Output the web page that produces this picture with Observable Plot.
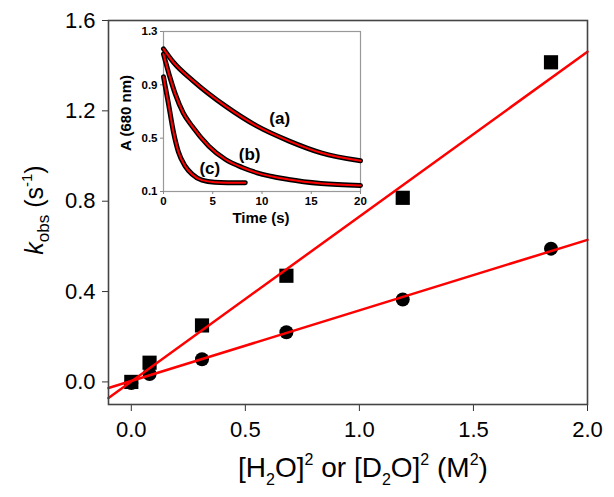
<!DOCTYPE html>
<html><head><meta charset="utf-8">
<script src="https://cdn.jsdelivr.net/npm/d3@7"></script>
<script src="https://cdn.jsdelivr.net/npm/@observablehq/plot@0.6"></script>
<style>
body{margin:0;background:#fff;}
#wrap{position:relative;width:614px;height:497px;background:#fff;}
#wrap svg{position:absolute;left:0;top:0;}
</style></head><body><div id="wrap"></div>
<script>
// Main plot data: [H2O]^2 or [D2O]^2 (M^2) vs k_obs (s^-1)
const waterSq = [0, 0.08, 0.31, 0.68, 1.19, 1.84];
const kobsH2O = [0.0, 0.085, 0.25, 0.47, 0.815, 1.415];   // squares
const kobsD2O = [-0.005, 0.035, 0.10, 0.22, 0.365, 0.59]; // circles
// Linear fits (read at the plot edges)
const fitX = [-0.1, 2.0];
const fitH2O = [-0.071, 1.462];
const fitD2O = [-0.027, 0.629];
const xTicks = [0, 0.5, 1.0, 1.5, 2.0];
const yTicks = [0, 0.4, 0.8, 1.2, 1.6];

// Inset: absorbance decays at 680 nm
const tA = [0, 1, 3, 6.3, 9.5, 12.7, 16, 20];
const absA = [1.17, 1.07, 0.93, 0.74, 0.59, 0.48, 0.39, 0.33];
const tB = [0, 0.6, 1.2, 2, 2.9, 4.6, 6.3, 8, 9.5, 12.7, 16, 20];
const absB = [1.13, 0.97, 0.83, 0.69, 0.59, 0.44, 0.34, 0.28, 0.24, 0.19, 0.16, 0.145];
const tC = [0, 0.5, 1.0, 1.5, 2.2, 2.9, 3.9, 5.2, 8.3];
const absC = [0.96, 0.76, 0.55, 0.40, 0.29, 0.23, 0.185, 0.17, 0.165];
const insetXTicks = [0, 5, 10, 15, 20];
const insetYTicks = [0.1, 0.5, 0.9, 1.3];
const curveLabels = ["(a)", "(b)", "(c)"];

const zip = (xs, ys) => xs.map((x, i) => ({x, y: ys[i]}));
const sqData = zip(waterSq, kobsH2O);
const ciData = zip(waterSq, kobsD2O);
const fitSq = zip(fitX, fitH2O);
const fitCi = zip(fitX, fitD2O);
const curves = [zip(tA, absA), zip(tB, absB), zip(tC, absC)];

const FONT = "'Liberation Sans', Arial, Helvetica, sans-serif";

const main = Plot.plot({
  width: 614, height: 497,
  marginLeft: 108, marginRight: 27, marginTop: 20, marginBottom: 93,
  style: {fontFamily: FONT, fontSize: "22px", background: "transparent", color: "#000"},
  x: {domain: [-0.1, 2.0]},
  y: {domain: [-0.1, 1.6]},
  marks: [
    Plot.axisX({ticks: xTicks, tickFormat: ".1f", tickSize: 7, tickPadding: 10, label: null, stroke: "#333", fill: "#000"}),
    Plot.axisY({ticks: yTicks, tickFormat: ".1f", tickSize: 6, tickPadding: 7, label: null, stroke: "#333", fill: "#000"}),
    Plot.dot(sqData, {x: "x", y: "y", symbol: "square", r: 8, fill: "#000"}),
    Plot.dot(ciData, {x: "x", y: "y", symbol: "circle", r: 7, fill: "#000"}),
    Plot.line(fitSq, {x: "x", y: "y", stroke: "#ff0000", strokeWidth: 2.5}),
    Plot.line(fitCi, {x: "x", y: "y", stroke: "#ff0000", strokeWidth: 2.5}),
    Plot.frame({stroke: "#444", strokeWidth: 1.6})
  ]
});

// Axis titles with sub/superscripts
const ms = d3.select(main);
const yl = ms.append("text")
  .attr("transform", "translate(43,210) rotate(-90)")
  .attr("text-anchor", "middle")
  .attr("font-family", FONT).attr("font-size", 25).attr("fill", "#000");
yl.append("tspan").attr("font-style", "italic").text("k");
yl.append("tspan").attr("font-size", 17).attr("dy", 6).text("obs");
yl.append("tspan").attr("dy", -6).text(" (s");
yl.append("tspan").attr("font-size", 15).attr("dy", -11).text("-1");
yl.append("tspan").attr("dy", 11).text(")");

const xl = ms.append("text")
  .attr("x", 363).attr("y", 477)
  .attr("text-anchor", "middle")
  .attr("font-family", FONT).attr("font-size", 28).attr("fill", "#000");
const parts = [["[H"], ["2", 8], ["O]"], ["2", -12], [" or [D"], ["2", 8], ["O]"], ["2", -12], [" (M"], ["2", -12], [")"]];
let cur = 0;
for (const [t, shift] of parts) {
  const s = shift || 0;
  const ts = xl.append("tspan").attr("dy", s - cur).text(t);
  if (shift !== undefined) ts.attr("font-size", 16);
  cur = s;
}

const inset = Plot.plot({
  width: 614, height: 497,
  marginLeft: 163, marginRight: 254, marginTop: 31, marginBottom: 306,
  style: {fontFamily: FONT, fontSize: "11px", background: "transparent", color: "#000"},
  x: {domain: [0, 20]},
  y: {domain: [0.1, 1.3]},
  marks: [
    Plot.frame({stroke: "#999", strokeWidth: 1.2, fill: "#fff"}),
    Plot.axisX({ticks: insetXTicks, tickSize: 3, tickPadding: 2, label: null, stroke: "#888", fill: "#000", fontWeight: "bold", fontSize: 11.5}),
    Plot.axisY({ticks: insetYTicks, tickFormat: ".1f", tickSize: 3, tickPadding: 3, label: null, stroke: "#888", fill: "#000", fontWeight: "bold", fontSize: 11.5}),
    ...curves.map(c => Plot.line(c, {x: "x", y: "y", stroke: "#000", strokeWidth: 5, curve: "monotone-x"})),
    ...curves.map(c => Plot.line(c, {x: "x", y: "y", stroke: "#ff0000", strokeWidth: 2, curve: "monotone-x"})),
    Plot.text([curveLabels[0]], {x: 11.8, y: 0.645, text: d => d, fontSize: 17, fontWeight: "bold", fill: "#000"}),
    Plot.text([curveLabels[1]], {x: 8.75, y: 0.38, text: d => d, fontSize: 17, fontWeight: "bold", fill: "#000"}),
    Plot.text([curveLabels[2]], {x: 4.7, y: 0.272, text: d => d, fontSize: 17, fontWeight: "bold", fill: "#000"})
  ]
});
const is = d3.select(inset);
is.append("text").attr("x", 261).attr("y", 223).attr("text-anchor", "middle")
  .attr("font-family", FONT).attr("font-size", 15).attr("font-weight", "bold").attr("fill", "#000")
  .text("Time (s)");
is.append("text").attr("transform", "translate(131,113) rotate(-90)").attr("text-anchor", "middle")
  .attr("font-family", FONT).attr("font-size", 15).attr("font-weight", "bold").attr("fill", "#000")
  .text("A (680 nm)");

const wrap = document.getElementById("wrap");
wrap.appendChild(main);
wrap.appendChild(inset);
</script>
</body></html>
